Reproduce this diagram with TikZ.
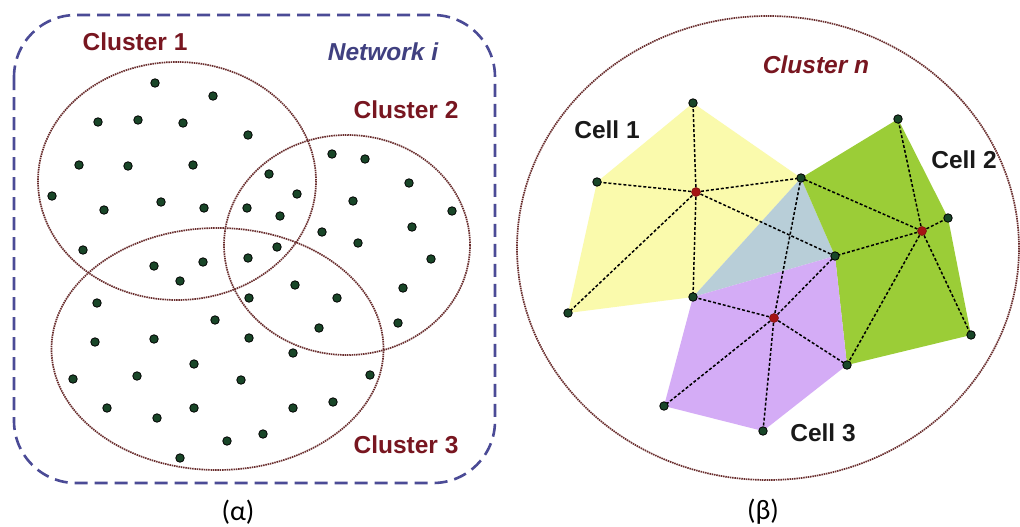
\documentclass[tikz,border=0pt]{standalone}
\usepackage{fontspec}
\newfontfamily\labfont{Liberation Sans}
\newfontfamily\capfont{Carlito}
\definecolor{netblue}{RGB}{75,75,150}
\definecolor{clred}{RGB}{120,22,32}
\definecolor{elline}{RGB}{105,45,45}
\definecolor{dotgreen}{RGB}{25,70,40}
\definecolor{cyellow}{RGB}{250,250,172}
\definecolor{cgreen}{RGB}{155,205,55}
\definecolor{cblue}{RGB}{184,206,216}
\definecolor{cpurple}{RGB}{212,172,246}
\definecolor{cred}{RGB}{165,20,20}
\tikzset{
  sensor/.style={circle,fill=dotgreen,draw=black,line width=0.8pt,inner sep=0pt,minimum size=8.5pt},
  head/.style={circle,fill=cred,draw=cred!70!black,line width=0.5pt,inner sep=0pt,minimum size=9pt},
  clusterline/.style={draw=elline,line width=1.7pt,dash pattern=on 1.5pt off 0.8pt},
  link/.style={draw=black,line width=1.5pt,dash pattern=on 3pt off 2pt},
  cllabel/.style={font=\labfont\bfseries\fontsize{24.5}{29}\selectfont,text=clred,inner sep=0pt},
  celllabel/.style={font=\labfont\bfseries\fontsize{24.5}{29}\selectfont,text=black!90,inner sep=0pt},
  caplabel/.style={font=\capfont\fontsize{28}{33}\selectfont,inner sep=0pt}
}
\begin{document}
\begin{tikzpicture}[x=1pt,y=-1pt]
\useasboundingbox (0,0) rectangle (1020,527);
\fill[white] (0,0) rectangle (1020,527);
% ---------- left panel ----------
\draw[netblue,line width=2.6pt,dash pattern=on 13pt off 7pt,rounded corners=62pt] (14,15) rectangle (495,483);
\foreach \p [count=\i] in {(155,83),(213,96),(98,122),(138,120),(183,123),(248,135),(79,165),(128,166),(193,165),(52,196),(104,210),(161,202),(204,208),(247,208),(83,250),
(332,154),(365,159),(269,174),(297,194),(409,183),(280,216),(353,201),(452,211),(412,227),(322,232),(358,243),(277,247),
(154,266),(203,262),(180,281),(248,258),(249,298),(97,303),(215,320),(249,338),(95,342),(154,339),(194,364),(73,379),(137,376),(241,380),(107,408),(157,418),(194,408),(227,441),(180,458),
(431,259),(295,285),(337,298),(403,288),(319,328),(398,323),(293,353),(370,375),(333,402),(293,408),(263,434)}
  \node[sensor] (s\i) at \p {};
\draw[clusterline] (177,181) ellipse [x radius=139, y radius=119];
\draw[clusterline] (347,245) ellipse [x radius=123, y radius=110];
\draw[clusterline] (217.5,349) ellipse [x radius=166, y radius=121];
\node[cllabel] (c1) at (135,42) {Cluster 1};
\node[cllabel] (c2) at (406,110) {Cluster 2};
\node[cllabel] (c3) at (406,445) {Cluster 3};
\node[cllabel,text=netblue!85!black,font=\labfont\bfseries\itshape\fontsize{24.5}{29}\selectfont] (net) at (383,52) {Network i};
\node[caplabel] (alpha) at (238,512) {(α)};
% ---------- right panel ----------
\coordinate (a1) at (693,103);
\coordinate (a2) at (597,182);
\coordinate (a3) at (568,313);
\coordinate (a4) at (693,297);
\coordinate (a5) at (801,178);
\coordinate (a6) at (835,256);
\coordinate (b1) at (898,119);
\coordinate (b2) at (948,218);
\coordinate (b3) at (971,335);
\coordinate (b4) at (847,365);
\coordinate (p1) at (763,431);
\coordinate (p2) at (664,406);
\fill[cyellow] (a1) -- (a5) -- (a4) -- (a3) -- (a2) -- cycle;
\fill[cblue] (a5) -- (a6) -- (a4) -- cycle;
\fill[cgreen] (a5) -- (b1) -- (b2) -- (b3) -- (b4) -- (a6) -- cycle;
\fill[cpurple] (a4) -- (a6) -- (b4) -- (p1) -- (p2) -- cycle;
\coordinate (h1) at (696,192);
\coordinate (h2) at (922,231);
\coordinate (h3) at (774,318);
\foreach \v in {a1,a2,a3,a4,a5,a6} \draw[link] (h1) -- (\v);
\foreach \v in {a5,b1,b2,b3,b4,a6} \draw[link] (h2) -- (\v);
\foreach \v in {a4,a5,a6,b4,p1,p2} \draw[link] (h3) -- (\v);
\foreach \v in {a1,a2,a3,a4,a5,a6,b1,b2,b3,b4,p1,p2} \node[sensor] (n\v) at (\v) {};
\node[head] (H1) at (h1) {};
\node[head] (H2) at (h2) {};
\node[head] (H3) at (h3) {};
\draw[clusterline] (768,248) ellipse [x radius=251, y radius=232];
\node[cllabel,font=\labfont\bfseries\itshape\fontsize{24.5}{29}\selectfont] (cn) at (816,65) {Cluster n};
\node[celllabel] (cell1) at (607,130) {Cell 1};
\node[celllabel] (cell2) at (964,160) {Cell 2};
\node[celllabel] (cell3) at (823,433) {Cell 3};
\node[caplabel] (beta) at (763,512) {(β)};
\end{tikzpicture}
\end{document}
